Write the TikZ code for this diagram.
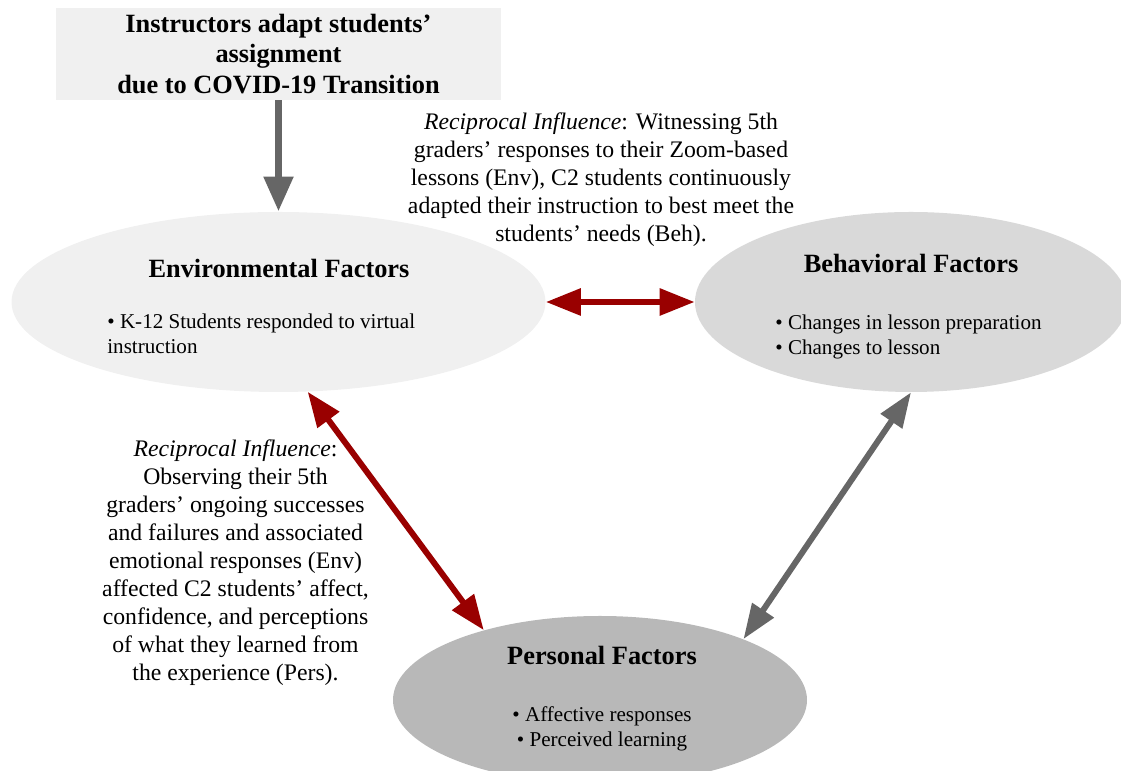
\documentclass[tikz,border=0pt]{standalone}
\usepackage{fontspec}
\setmainfont{Liberation Serif}
\usetikzlibrary{shapes.geometric}
\usetikzlibrary{arrows.meta}
\definecolor{linkred}{HTML}{990000}
\definecolor{linkgray}{HTML}{666666}
\tikzset{
  factor/.style={ellipse,draw=none,inner sep=0pt},
  heading/.style={font=\fontsize{15}{17.6}\selectfont\bfseries,inner sep=0pt},
  bullets/.style={font=\fontsize{12}{14.2}\selectfont,inner sep=0pt},
  influence/.style={font=\fontsize{13.5}{15.9}\selectfont,align=center,inner sep=0pt},
  redlink/.style={draw=linkred,line width=3.4pt,{Triangle[length=0.7cm,width=0.52cm]}-{Triangle[length=0.7cm,width=0.52cm]}},
  graylink/.style={draw=linkgray,line width=3.4pt,{Triangle[length=0.7cm,width=0.5cm]}-{Triangle[length=0.7cm,width=0.5cm]}}
}

\begin{document}
\begin{tikzpicture}
\useasboundingbox (0,0) rectangle (22.42,15.42);
% transition box
\node[fill=black!6,minimum width=8.9cm,minimum height=1.76cm,align=center,
  font=\fontsize{15}{17.6}\selectfont\bfseries] (shift) at (5.57,14.34)
  {Instructors adapt students’\\assignment\\due to COVID-19 Transition};

% factor ellipses
\node[factor,fill=black!6,minimum width=10.68cm,minimum height=3.6cm] (env) at (5.57,9.38) {};
\node[factor,fill=black!15,minimum width=8.64cm,minimum height=3.6cm] (beh) at (18.22,9.38) {};
\node[factor,fill=black!28,minimum width=8.28cm,minimum height=3.36cm] (pers) at (12.0,1.42) {};

\node[heading] (envhead) at (5.58,10.06) {Environmental Factors};
\node[bullets,anchor=west,align=left] (envlist) at (2.14,8.75)
  {• K-12 Students responded to virtual\\instruction};
\node[heading] (behhead) at (18.22,10.16) {Behavioral Factors};
\node[bullets,anchor=west,align=left] (behlist) at (15.5,8.69)
  {• Changes in lesson preparation\\• Changes to lesson};
\node[heading] (pershead) at (12.04,2.32) {Personal Factors};
\node[bullets,align=center] (perslist) at (12.04,0.85)
  {• Affective responses\\• Perceived learning};

% reciprocal influences
\node[influence] (envbeh) at (12.02,11.82)
  {\textit{Reciprocal Influence}: Witnessing 5th\\
   graders’ responses to their Zoom-based\\
   lessons (Env), C2 students continuously\\
   adapted their instruction to best meet the\\
   students’ needs (Beh).};
\node[influence] (envpers) at (4.71,4.17)
  {\textit{Reciprocal Influence}:\\
   Observing their 5th\\
   graders’ ongoing successes\\
   and failures and associated\\
   emotional responses (Env)\\
   affected C2 students’ affect,\\
   confidence, and perceptions\\
   of what they learned from\\
   the experience (Pers).};

% connectors
\draw[draw=linkgray,line width=4.5pt,-{Triangle[length=0.7cm,width=0.56cm]}] (shift.south) -- (env.north);
\draw[redlink] (env.east) -- (beh.west);
\draw[redlink] (env.-72) -- (pers.149);
\draw[graylink] (beh.south) -- (pers.23);
\end{tikzpicture}
\end{document}
